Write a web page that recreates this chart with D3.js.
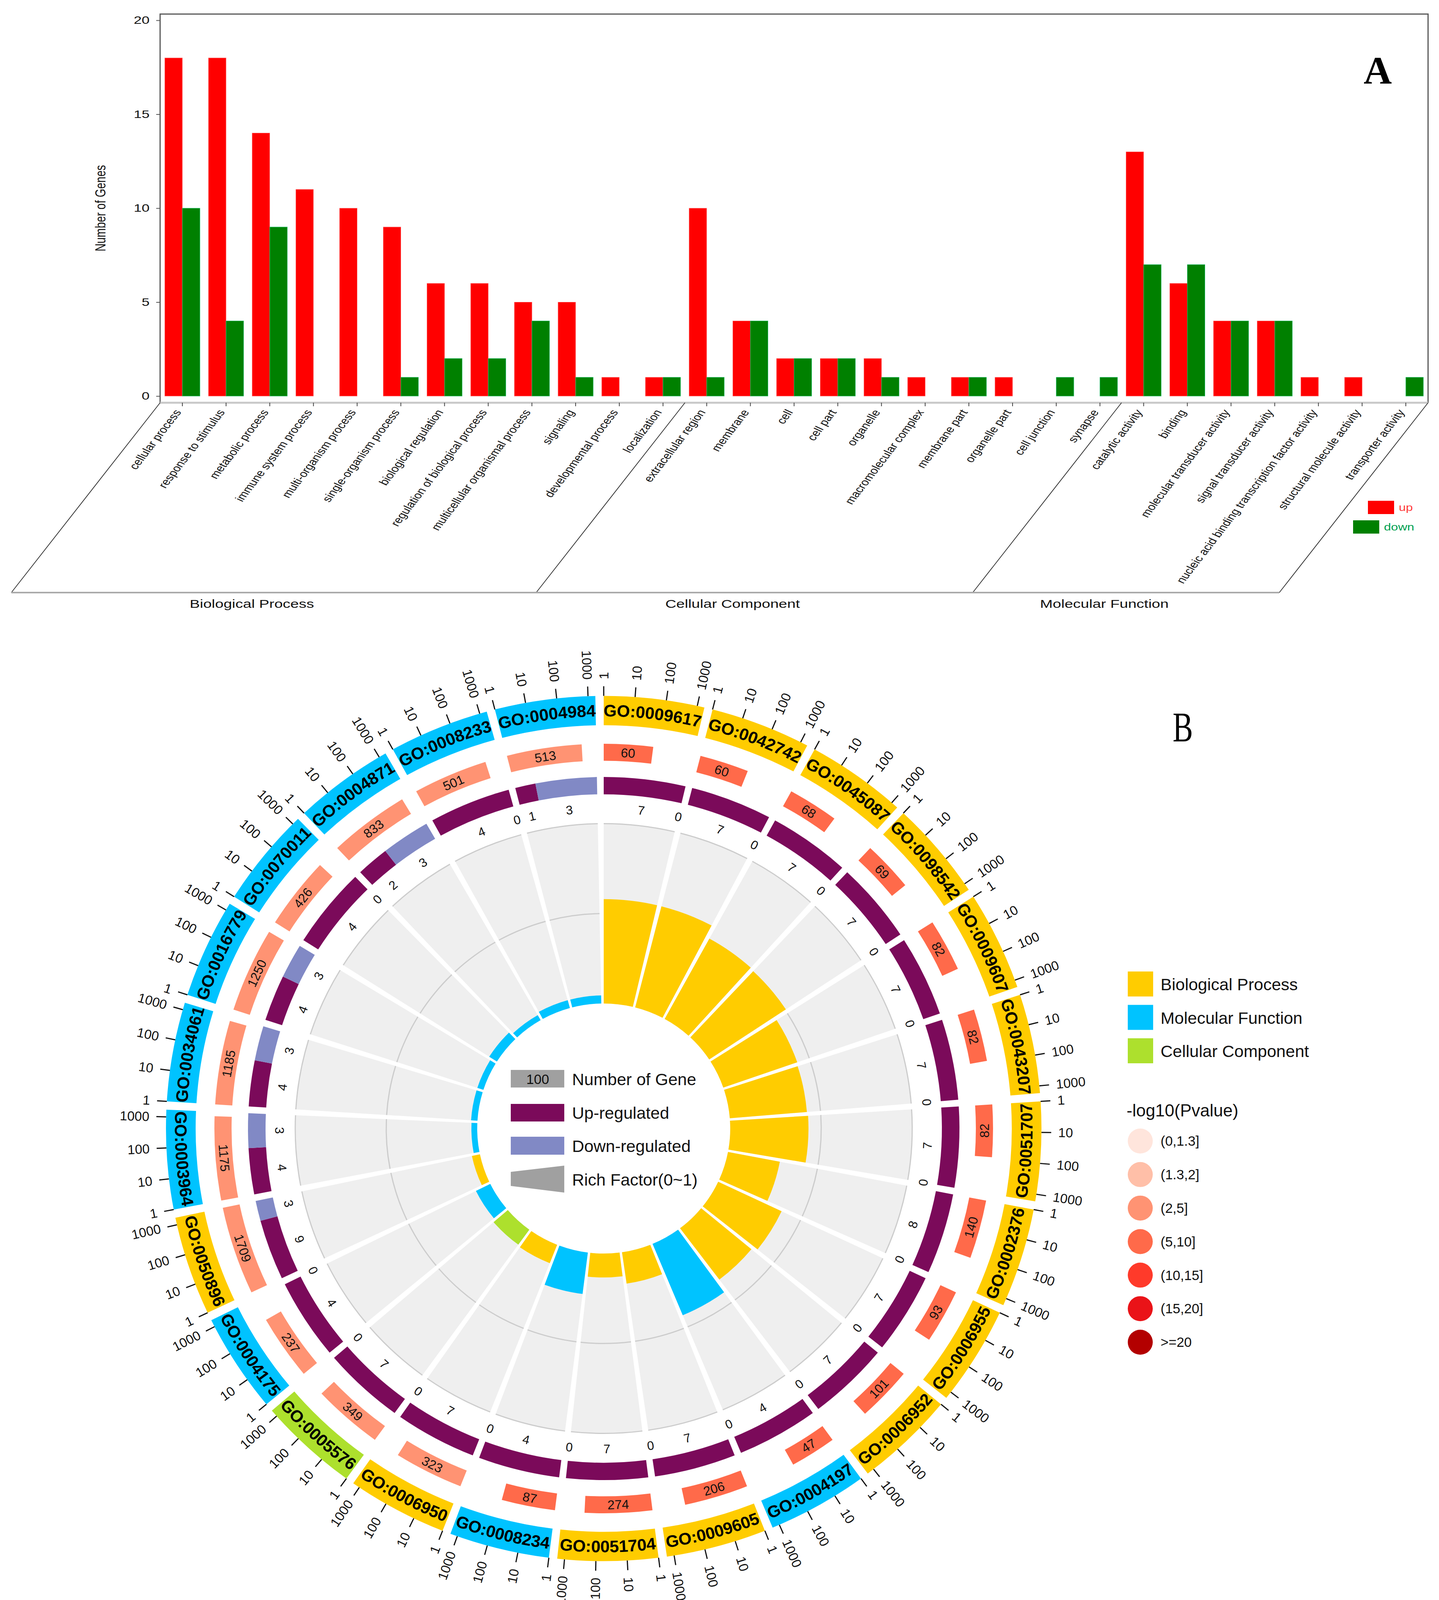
<!DOCTYPE html>
<html>
<head>
<meta charset="utf-8">
<script src="https://cdn.jsdelivr.net/npm/d3@7"></script>
<style>
    html, body { margin: 0; padding: 0; background: #fff; }
    svg { display: block; }
    text { font-family: "Liberation Sans", Arial, sans-serif; fill: #111; }
</style>
</head>
<body>
<svg id="chart" width="3685" height="4135"></svg>
<script>
// Panel A data
const categories = [
    "cellular process", "response to stimulus", "metabolic process", "immune system process",
    "multi-organism process", "single-organism process", "biological regulation",
    "regulation of biological process", "multicellular organismal process", "signaling",
    "developmental process", "localization", "extracellular region", "membrane", "cell",
    "cell part", "organelle", "macromolecular complex", "membrane part", "organelle part",
    "cell junction", "synapse", "catalytic activity", "binding", "molecular transducer activity",
    "signal transducer activity", "nucleic acid binding transcription factor activity",
    "structural molecule activity", "transporter activity",
];
const upCounts = [18, 18, 14, 11, 10, 9, 6, 6, 5, 5, 1, 1, 10, 4, 2, 2, 2, 1, 1, 1, 0, 0, 13, 6, 4, 4, 1, 1, 0];
const downCounts = [10, 4, 9, 0, 0, 1, 2, 2, 4, 1, 0, 1, 1, 4, 2, 2, 1, 0, 1, 0, 1, 1, 7, 7, 4, 4, 0, 0, 1];
const yTicks = [0, 5, 10, 15, 20];
const ontologyNames = ["Biological Process", "Cellular Component", "Molecular Function"];

// Panel B data, clockwise from the top
const goIds = [
    "GO:0009617", "GO:0042742", "GO:0045087", "GO:0098542", "GO:0009607", "GO:0043207", "GO:0051707",
    "GO:0002376", "GO:0006955", "GO:0006952", "GO:0004197", "GO:0009605", "GO:0051704", "GO:0008234",
    "GO:0006950", "GO:0005576", "GO:0004175", "GO:0050896", "GO:0003964", "GO:0034061", "GO:0016779",
    "GO:0070011", "GO:0004871", "GO:0008233", "GO:0004984",
];
const goClasses = [
    "BP", "BP", "BP", "BP", "BP", "BP", "BP", "BP", "BP", "BP", "MF", "BP", "BP", "MF",
    "BP", "CC", "MF", "BP", "MF", "MF", "MF", "MF", "MF", "MF", "MF",
];
const geneNumbers = [60, 60, 68, 69, 82, 82, 82, 140, 93, 101, 47, 206, 274, 87, 323, 349, 237, 1709, 1175, 1185, 1250, 426, 833, 501, 513];
const pvalueBins = [3, 3, 3, 3, 3, 3, 3, 3, 3, 3, 3, 3, 3, 3, 2, 2, 2, 2, 2, 2, 2, 2, 2, 2, 2];
const upGenes = [7, 7, 7, 7, 7, 7, 7, 8, 7, 7, 4, 7, 7, 4, 7, 7, 4, 9, 4, 4, 4, 4, 2, 4, 1];
const downGenes = [0, 0, 0, 0, 0, 0, 0, 0, 0, 0, 0, 0, 0, 0, 0, 0, 0, 3, 3, 3, 3, 0, 3, 0, 3];
const richFactors = [0.58, 0.58, 0.51, 0.505, 0.43, 0.425, 0.43, 0.29, 0.385, 0.358, 0.43, 0.176, 0.133, 0.232, 0.11, 0.103, 0.088, 0.045, 0.032, 0.035, 0.035, 0.05, 0.032, 0.045, 0.045];
const logTicks = [1, 10, 100, 1000];

const classNames = ["Biological Process", "Molecular Function", "Cellular Component"];
const classColors = { BP: "#FFCC00", MF: "#00C3FF", CC: "#ADE02D" };
const pvalueLabels = ["(0,1.3]", "(1.3,2]", "(2,5]", "(5,10]", "(10,15]", "(15,20]", ">=20"];
const pvalueColors = ["#FFE5DC", "#FFBFA8", "#FF9373", "#FF6A4A", "#FF3A2A", "#EA1318", "#B30000"];
const upColor = "#7B0A5A";
const downColor = "#8189C5";

const svg = d3.select("#chart");

const drawBarPanel = () => {
    const g = svg.append("g");
    const stretch = 1.3; // the original panel is wider than it is tall

    const x = d3.scalePoint().domain(categories).range([467, 3600]);
    const y = d3.scaleLinear().domain([0, 20]).range([1014, 52]);
    const barWidth = 45;

    // Frame
    const left = 410, right = 3657, top = 36, axisY = 1031, floorY = 1517, slant = 381;
    g.append("path")
        .attr("d", `M${left},${axisY}V${top}H${right}V${axisY}`)
        .attr("fill", "none")
        .attr("stroke", "#555")
        .attr("stroke-width", 3);
    g.append("line")
        .attr("x1", left).attr("x2", right)
        .attr("y1", axisY).attr("y2", axisY)
        .attr("stroke", "#c8c8c8")
        .attr("stroke-width", 5);

    // Floor below the axis, split per ontology
    const splits = [left, 1754, 2872, right];
    g.selectAll(".slant")
        .data(splits)
        .enter()
        .append("line")
        .attr("class", "slant")
        .attr("x1", (d) => d).attr("y1", axisY)
        .attr("x2", (d) => d - slant).attr("y2", floorY)
        .attr("stroke", "#333")
        .attr("stroke-width", 2);
    g.append("line")
        .attr("x1", left - slant).attr("x2", right - slant)
        .attr("y1", floorY).attr("y2", floorY)
        .attr("stroke", "#aaa")
        .attr("stroke-width", 4);

    const nameCenters = [645, 1876, 2828];
    g.selectAll(".ontology")
        .data(ontologyNames)
        .enter()
        .append("text")
        .attr("class", "ontology")
        .attr("transform", (d, i) => `translate(${nameCenters[i]},1556) scale(${stretch},1)`)
        .attr("text-anchor", "middle")
        .attr("font-size", 30)
        .text((d) => d);

    // Y axis
    const yAxis = g.append("g")
        .attr("transform", `translate(${left},0)`)
        .call(d3.axisLeft(y).tickValues(yTicks).tickSize(10).tickPadding(0));
    yAxis.select(".domain").remove();
    yAxis.selectAll("line").attr("stroke", "#555").attr("stroke-width", 2);
    yAxis.selectAll("text")
        .attr("font-size", 28)
        .attr("transform", `translate(-14,0) scale(${stretch},1)`);

    g.append("text")
        .attr("transform", `translate(270,533) scale(${stretch},1) rotate(-90)`)
        .attr("text-anchor", "middle")
        .attr("font-size", 28)
        .text("Number of Genes");

    // X ticks and slanted labels
    g.selectAll(".xtick")
        .data(categories)
        .enter()
        .append("line")
        .attr("class", "xtick")
        .attr("x1", (d) => x(d)).attr("x2", (d) => x(d))
        .attr("y1", axisY).attr("y2", axisY + 9)
        .attr("stroke", "#444")
        .attr("stroke-width", 2);
    g.selectAll(".xlabel")
        .data(categories)
        .enter()
        .append("text")
        .attr("class", "xlabel")
        .attr("transform", (d) => `translate(${x(d) - 2},${axisY + 24}) scale(${stretch},1) rotate(-59)`)
        .attr("text-anchor", "end")
        .attr("font-size", 25)
        .attr("fill", "#222")
        .text((d) => d);

    // Bars, red left of the tick and green right of it
    upCounts.forEach((v, i) => {
        if (v === 0) return;
        g.append("rect")
            .attr("x", x(categories[i]) - barWidth)
            .attr("y", y(v))
            .attr("width", barWidth)
            .attr("height", y(0) - y(v))
            .attr("fill", "#FF0000")
            .attr("stroke", "#ff7070")
            .attr("stroke-width", 1);
    });
    downCounts.forEach((v, i) => {
        if (v === 0) return;
        g.append("rect")
            .attr("x", x(categories[i]))
            .attr("y", y(v))
            .attr("width", barWidth)
            .attr("height", y(0) - y(v))
            .attr("fill", "#008000")
            .attr("stroke", "#22c070")
            .attr("stroke-width", 1);
    });

    // Legend
    const legendRows = [
        { label: "up", color: "#FF0000", text: "#ff3b3b", x: 3503, y: 1282 },
        { label: "down", color: "#008000", text: "#00a050", x: 3465, y: 1332 },
    ];
    legendRows.forEach((d) => {
        g.append("rect")
            .attr("x", d.x).attr("y", d.y)
            .attr("width", 67).attr("height", 34)
            .attr("fill", d.color);
        g.append("text")
            .attr("transform", `translate(${d.x + 79},${d.y + 26}) scale(${stretch},1)`)
            .attr("font-size", 25)
            .style("fill", d.text)
            .text(d.label);
    });

    g.append("text")
        .attr("x", 3528).attr("y", 214)
        .attr("text-anchor", "middle")
        .attr("font-size", 100)
        .attr("font-weight", "bold")
        .style("font-family", "'Liberation Serif', serif")
        .style("fill", "#000")
        .text("A");
};

const drawCircosPanel = () => {
    const g = svg.append("g").attr("transform", "translate(1546,2889) scale(1,0.988)");
    const arc = d3.arc();
    const rad = Math.PI / 180;

    const step = 360 / goIds.length;
    const span = 13.3;
    const start = (i) => i * step;

    const logScale = d3.scaleLog().domain([1, 1709]).range([0, span]);
    const richScale = d3.scaleLinear().domain([0, 1]).range([324, 790]);

    const wedge = (r0, r1, a0, a1) =>
        arc({ innerRadius: r0, outerRadius: r1, startAngle: a0 * rad, endAngle: a1 * rad });

    // text along the tangent at angle a, flipped so that it stays readable
    const tangent = (a, r) =>
        `rotate(${a}) translate(0,${-r})` + (a > 90 && a < 270 ? " rotate(180)" : "");

    const sectors = goIds.map((id, i) => ({ id, i, a0: start(i), a1: start(i) + span }));

    // Grey background, grid circle and rich factor bars
    const inner = g.append("g");
    inner.selectAll(".bg")
        .data(sectors)
        .enter()
        .append("path")
        .attr("d", (d) => wedge(richScale(0), richScale(1), d.a0, d.a1))
        .attr("fill", "#EFEFEF");
    [0.5, 1].forEach((v) => {
        inner.selectAll(null)
            .data(sectors)
            .enter()
            .append("path")
            .attr("d", (d) => wedge(richScale(v) - 1.5, richScale(v) + 1.5, d.a0, d.a1))
            .attr("fill", "#CCCCCC");
    });
    inner.selectAll(".rich")
        .data(sectors)
        .enter()
        .append("path")
        .attr("d", (d) => wedge(richScale(0), richScale(richFactors[d.i]), d.a0, d.a1))
        .attr("fill", (d) => classColors[goClasses[d.i]]);

    // Outer ring with the GO ids
    g.selectAll(".outer")
        .data(sectors)
        .enter()
        .append("path")
        .attr("d", (d) => wedge(1045, 1121, d.a0, d.a1))
        .attr("fill", (d) => classColors[goClasses[d.i]]);

    const defs = svg.append("defs");
    sectors.forEach((d) => {
        const mid = (d.a0 + d.a1) / 2;
        const lower = mid > 90 && mid < 270;
        const r = lower ? 1083 + 15 : 1083 - 15;
        const from = (lower ? d.a1 + 4 : d.a0 - 4) * rad;
        const to = (lower ? d.a0 - 4 : d.a1 + 4) * rad;
        const p = d3.path();
        p.arc(0, 0, r, from - Math.PI / 2, to - Math.PI / 2, lower);
        defs.append("path").attr("id", `arc${d.i}`).attr("d", p.toString());
        g.append("text")
            .attr("font-size", 43)
            .attr("font-weight", "bold")
            .style("fill", "#000")
            .append("textPath")
            .attr("href", `#arc${d.i}`)
            .attr("startOffset", "50%")
            .attr("text-anchor", "middle")
            .text(d.id);
    });

    // Log ticks outside the outer ring
    sectors.forEach((d) => {
        logTicks.forEach((t) => {
            const a = d.a0 + logScale(t);
            g.append("line")
                .attr("transform", `rotate(${a})`)
                .attr("y1", -1121).attr("y2", -1146)
                .attr("stroke", "#111")
                .attr("stroke-width", 3);
            const leftSide = a >= 180;
            g.append("text")
                .attr("transform", `rotate(${a - 90}) translate(1164,0)` + (leftSide ? " rotate(180)" : ""))
                .attr("text-anchor", leftSide ? "end" : "start")
                .attr("dy", "0.35em")
                .attr("font-size", 34)
                .text(t);
        });
    });

    // Gene number ring, bar length on the same log scale
    g.selectAll(".genes")
        .data(sectors)
        .enter()
        .append("path")
        .attr("d", (d) => wedge(953, 997, d.a0, d.a0 + logScale(geneNumbers[d.i])))
        .attr("fill", (d) => pvalueColors[pvalueBins[d.i]]);
    g.selectAll(".geneLabel")
        .data(sectors)
        .enter()
        .append("text")
        .attr("transform", (d) => tangent(d.a0 + logScale(geneNumbers[d.i]) / 2, 975))
        .attr("text-anchor", "middle")
        .attr("dy", "0.35em")
        .attr("font-size", 33)
        .text((d) => geneNumbers[d.i]);

    // Up and down regulated ring
    sectors.forEach((d) => {
        const up = upGenes[d.i];
        const down = downGenes[d.i];
        const split = d.a0 + span * up / (up + down);
        g.append("path").attr("d", wedge(866, 911, d.a0, split)).attr("fill", upColor);
        if (down > 0) {
            g.append("path").attr("d", wedge(866, 911, split, d.a1)).attr("fill", downColor);
        }
        [[up, (d.a0 + split) / 2], [down, (split + d.a1) / 2]].forEach(([v, a]) => {
            g.append("text")
                .attr("transform", tangent(a, 830))
                .attr("text-anchor", "middle")
                .attr("dy", "0.35em")
                .attr("font-size", 32)
                .attr("fill", "#222")
                .text(v);
        });
    });
};

const drawLegends = () => {
    const g = svg.append("g");

    // Keys in the middle of the circle
    g.append("rect").attr("x", 1308).attr("y", 2739).attr("width", 137).attr("height", 45).attr("fill", "#A0A0A0");
    g.append("text")
        .attr("x", 1377).attr("y", 2763)
        .attr("dy", "0.35em")
        .attr("text-anchor", "middle")
        .attr("font-size", 35)
        .text("100");
    g.append("rect").attr("x", 1308).attr("y", 2826).attr("width", 137).attr("height", 45).attr("fill", upColor);
    g.append("rect").attr("x", 1308).attr("y", 2910).attr("width", 137).attr("height", 46).attr("fill", downColor);
    g.append("path").attr("d", "M1308,3000L1445,2984V3053L1308,3036Z").attr("fill", "#A0A0A0");
    const centerKeys = ["Number of Gene", "Up-regulated", "Down-regulated", "Rich Factor(0~1)"];
    const centerKeyY = [2763, 2849, 2934, 3020];
    g.selectAll(".centerKey")
        .data(centerKeys)
        .enter()
        .append("text")
        .attr("x", 1465)
        .attr("y", (d, i) => centerKeyY[i])
        .attr("dy", "0.35em")
        .attr("font-size", 43)
        .text((d) => d);

    // Ontology classes
    const classKeys = ["BP", "MF", "CC"];
    const classY = d3.scalePoint().domain(classNames).range([2487, 2658]);
    g.selectAll(".classBox")
        .data(classNames)
        .enter()
        .append("rect")
        .attr("x", 2888)
        .attr("y", (d) => classY(d))
        .attr("width", 65)
        .attr("height", 64)
        .attr("fill", (d, i) => classColors[classKeys[i]]);
    g.selectAll(".classLabel")
        .data(classNames)
        .enter()
        .append("text")
        .attr("x", 2972)
        .attr("y", (d) => classY(d) + 33)
        .attr("dy", "0.35em")
        .attr("font-size", 43)
        .text((d) => d);

    // P value bins
    g.append("text")
        .attr("x", 2885).attr("y", 2843)
        .attr("dy", "0.35em")
        .attr("font-size", 44)
        .text("-log10(Pvalue)");
    const binY = d3.scalePoint().domain(pvalueLabels).range([2921, 3436]);
    g.selectAll(".binDot")
        .data(pvalueLabels)
        .enter()
        .append("circle")
        .attr("cx", 2920)
        .attr("cy", (d) => binY(d))
        .attr("r", 32)
        .attr("fill", (d, i) => pvalueColors[i]);
    g.selectAll(".binLabel")
        .data(pvalueLabels)
        .enter()
        .append("text")
        .attr("x", 2972)
        .attr("y", (d) => binY(d))
        .attr("dy", "0.35em")
        .attr("font-size", 35)
        .text((d) => d);

    // The letter is narrow in the original
    g.append("text")
        .attr("transform", "translate(3029,1898) scale(0.72,1)")
        .attr("text-anchor", "middle")
        .attr("font-size", 108)
        .style("font-family", "'Liberation Serif', serif")
        .style("fill", "#000")
        .text("B");
};

drawBarPanel();
drawCircosPanel();
drawLegends();
</script>
</body>
</html>
